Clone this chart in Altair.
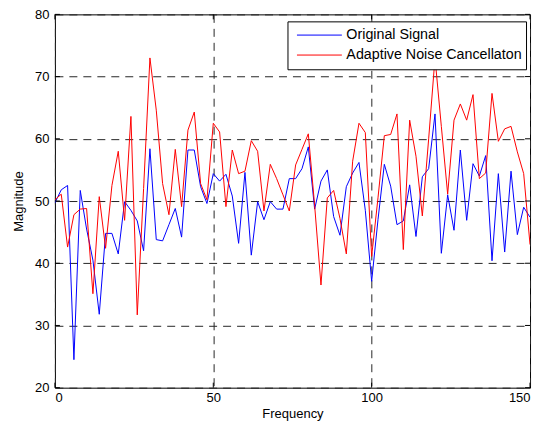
import altair as alt
import pandas as pd

FREQ = list(range(0, 151, 2))
ORIGINAL = [
    49.7, 51.8, 52.5, 24.5, 51.7, 45.5, 40.5, 31.8, 44.8, 44.8,
    41.5, 49.9, 48.5, 46.8, 42.0, 58.4, 43.8, 43.6, 46.2, 48.8,
    44.2, 58.2, 58.2, 52.3, 49.6, 54.4, 53.2, 54.3, 50.8, 43.2,
    54.6, 41.3, 49.9, 47.0, 49.9, 48.7, 48.7, 53.6, 53.6, 55.2,
    58.7, 48.7, 53.2, 55.0, 47.5, 44.5, 52.3, 54.5, 56.2, 48.5,
    37.1, 47.0, 55.9, 52.4, 46.2, 46.8, 52.6, 44.3, 53.9, 55.2,
    64.0, 41.6, 51.0, 45.3, 58.2, 46.9, 56.0, 54.0, 57.3, 40.4,
    54.4, 41.8, 54.8, 44.6, 49.0, 47.4,
]
ANC = [
    50.2, 51.1, 42.6, 47.8, 48.7, 48.8, 35.1, 50.7, 42.4, 52.5,
    58.0, 46.9, 63.6, 31.7, 52.0, 73.0, 64.6, 52.8, 47.8, 58.3,
    49.1, 61.4, 64.3, 52.8, 50.2, 62.5, 61.1, 49.1, 58.2, 54.4,
    54.8, 59.7, 58.0, 48.4, 55.9, 53.6, 51.0, 48.4, 55.8, 58.3,
    60.8, 49.3, 36.5, 50.5, 51.7, 47.2, 41.5, 56.4, 62.5, 61.0,
    41.1, 50.5, 60.5, 60.7, 64.0, 42.2, 63.0, 57.2, 47.6, 60.0,
    73.0, 62.0, 51.1, 63.0, 65.6, 63.0, 67.1, 53.6, 54.5, 67.3,
    59.6, 61.6, 62.0, 57.9, 54.4, 43.0,
]
SERIES = ["Original Signal", "Adaptive Noise Cancellaton"]
COLORS = ["#0000ff", "#ff0000"]
X_TICKS = [0, 50, 100, 150]
Y_TICKS = [20, 30, 40, 50, 60, 70, 80]

W, H = 476, 374
FONT = "Liberation Sans"

df = pd.DataFrame({
    "freq": FREQ * 2,
    "mag": ORIGINAL + ANC,
    "series": [SERIES[0]] * len(FREQ) + [SERIES[1]] * len(FREQ),
})

xscale = alt.Scale(domain=[0, 150], nice=False, zero=False)
yscale = alt.Scale(domain=[20, 80], nice=False, zero=False)

xaxis = alt.Axis(values=X_TICKS, title="Frequency", grid=True, ticks=False,
                 domain=False, labelPadding=4, titlePadding=3)
yaxis = alt.Axis(values=Y_TICKS, title="Magnitude", grid=True, ticks=False,
                 domain=False, labelPadding=6, titlePadding=9)

color = alt.Color(
    "series:N",
    scale=alt.Scale(domain=SERIES, range=COLORS),
    legend=alt.Legend(
        title=None, orient="none", legendX=233, legendY=7,
        direction="vertical", fillColor="white", strokeColor="black",
        padding=4, labelFont=FONT, labelFontSize=14.3, labelColor="black",
        labelLimit=400, symbolType="stroke", symbolSize=2025,
        symbolStrokeWidth=1, symbolOffset=5, labelOffset=4,
        clipHeight=19.5, rowPadding=0,
    ),
)


def line(name):
    return (
        alt.Chart(df)
        .transform_filter(alt.datum.series == name)
        .mark_line(strokeWidth=1, clip=True)
        .encode(
            x=alt.X("freq:Q", scale=xscale, axis=xaxis),
            y=alt.Y("mag:Q", scale=yscale, axis=yaxis),
            color=color,
        )
    )


xt = pd.DataFrame({"freq": X_TICKS})
yt = pd.DataFrame({"mag": Y_TICKS})

bottom_ticks = alt.Chart(xt).mark_rule(color="black", strokeWidth=1).encode(
    x=alt.X("freq:Q", scale=xscale, title="Frequency"),
    y=alt.value(H), y2=alt.value(H - 5))
top_ticks = alt.Chart(xt).mark_rule(color="black", strokeWidth=1).encode(
    x=alt.X("freq:Q", scale=xscale, title="Frequency"),
    y=alt.value(0), y2=alt.value(5))
left_ticks = alt.Chart(yt).mark_rule(color="black", strokeWidth=1).encode(
    y=alt.Y("mag:Q", scale=yscale, title="Magnitude"),
    x=alt.value(0), x2=alt.value(5))
right_ticks = alt.Chart(yt).mark_rule(color="black", strokeWidth=1).encode(
    y=alt.Y("mag:Q", scale=yscale, title="Magnitude"),
    x=alt.value(W), x2=alt.value(W - 5))

chart = (
    alt.layer(line(SERIES[0]), line(SERIES[1]),
              bottom_ticks, top_ticks, left_ticks, right_ticks)
    .properties(
        width=W, height=H,
        autosize=alt.AutoSizeParams(type="none"),
        padding={"left": 47, "top": 6, "right": 12, "bottom": 34},
        background="white",
    )
    .configure(font=FONT)
    .configure_view(stroke="black", strokeWidth=1)
    .configure_axis(
        gridColor="#262626", gridDash=[8, 6], gridWidth=1, gridOpacity=1,
        labelFont=FONT, labelFontSize=13, labelColor="black",
        titleFont=FONT, titleFontSize=13, titleFontWeight="normal",
        titleColor="black",
    )
)

chart.save("out.html", embed_options={"renderer": "svg", "actions": False})
